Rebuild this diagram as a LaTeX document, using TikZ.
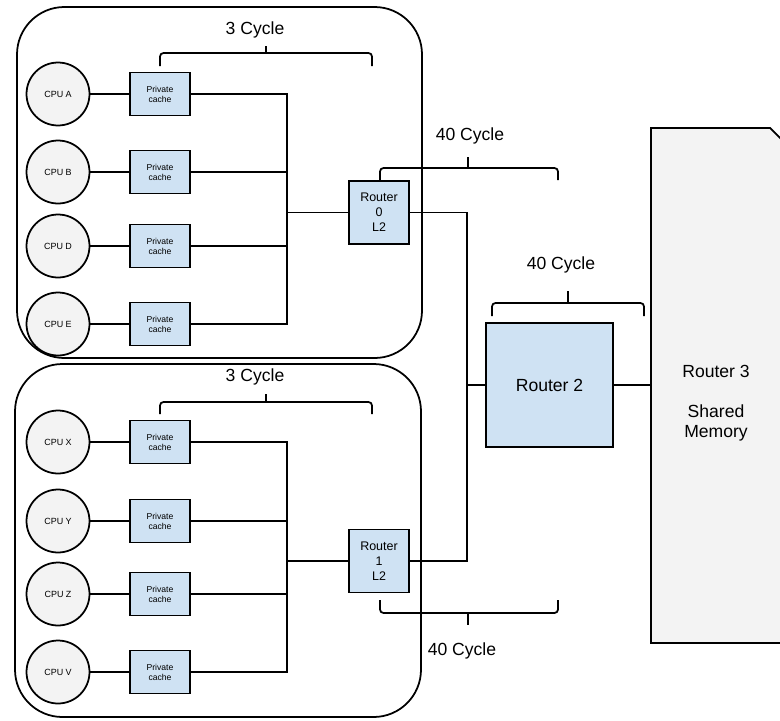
\documentclass[tikz,border=0pt]{standalone}
\usepackage{fontspec}
\setmainfont{Liberation Sans}
\definecolor{cpugray}{HTML}{F3F3F3}
\definecolor{cacheblue}{HTML}{CFE2F3}

\begin{document}
\begin{tikzpicture}[x=0.02cm, y=-0.02cm, line width=1pt,
    cpu/.style={circle, draw, fill=cpugray, minimum size=1.26cm, inner sep=0pt, font=\fontsize{5.1}{6}\selectfont},
    cache/.style={rectangle, draw, fill=cacheblue, minimum width=1.2cm, minimum height=0.86cm, inner sep=0pt, align=center, font=\fontsize{4.9}{5.7}\selectfont},
    router/.style={rectangle, draw, fill=cacheblue, minimum width=1.2cm, minimum height=1.26cm, inner sep=0pt, align=center, font=\fontsize{7.1}{8.5}\selectfont},
    cluster/.style={rounded corners=27pt},
    bracket/.style={rounded corners=2pt},
    lbl/.style={font=\fontsize{10}{11.3}\selectfont, align=center}]
    \useasboundingbox (0,0) rectangle (780,720);

    % the two clusters
    \draw[cluster] (17,7) rectangle (422,358);
    \draw[cluster] (15,364) rectangle (421,717);

    % upper cluster
    \node[cpu] (cpuA) at (58,94) {CPU A};
    \node[cpu] (cpuB) at (58,172) {CPU B};
    \node[cpu] (cpuD) at (58,246) {CPU D};
    \node[cpu] (cpuE) at (58,324) {CPU E};
    \node[cache] (cacheA) at (160,94) {Private\\cache};
    \node[cache] (cacheB) at (160,172) {Private\\cache};
    \node[cache] (cacheD) at (160,246) {Private\\cache};
    \node[cache] (cacheE) at (160,324) {Private\\cache};
    \node[router] (r0) at (379,212.5) {Router\\0\\L2};

    \draw (cpuA) -- (cacheA);
    \draw (cpuB) -- (cacheB);
    \draw (cpuD) -- (cacheD);
    \draw (cpuE) -- (cacheE);
    \coordinate (bus0) at (287,212.5);
    \draw (cacheA) -- (cacheA -| bus0) -- (cacheE -| bus0) -- (cacheE);
    \draw (cacheB) -- (cacheB -| bus0);
    \draw (cacheD) -- (cacheD -| bus0);
    \draw (bus0) -- (r0);

    % lower cluster
    \node[cpu] (cpuX) at (58,442) {CPU X};
    \node[cpu] (cpuY) at (58,521) {CPU Y};
    \node[cpu] (cpuZ) at (58,594) {CPU Z};
    \node[cpu] (cpuV) at (58,672) {CPU V};
    \node[cache] (cacheX) at (160,442) {Private\\cache};
    \node[cache] (cacheY) at (160,521) {Private\\cache};
    \node[cache] (cacheZ) at (160,594) {Private\\cache};
    \node[cache] (cacheV) at (160,672) {Private\\cache};
    \node[router] (r1) at (379,561) {Router\\1\\L2};

    \draw (cpuX) -- (cacheX);
    \draw (cpuY) -- (cacheY);
    \draw (cpuZ) -- (cacheZ);
    \draw (cpuV) -- (cacheV);
    \coordinate (bus1) at (287,561);
    \draw (cacheX) -- (cacheX -| bus1) -- (cacheV -| bus1) -- (cacheV);
    \draw (cacheY) -- (cacheY -| bus1);
    \draw (cacheZ) -- (cacheZ -| bus1);
    \draw (bus1) -- (r1);

    % routers 2 and 3
    \node[router, minimum width=2.54cm, minimum height=2.48cm, font=\fontsize{10}{12}\selectfont] (r2) at (549.5,385) {Router 2};
    \filldraw[fill=cpugray] (651,128) -- (770,128) -- (795,153) -- (795,643) -- (651,643) -- cycle;
    \coordinate (r3) at (651,385);
    \node[lbl] (r3txt) at (716,403) {Router 3\\[11.3pt]Shared\\Memory};

    \coordinate (j0) at (467,212.5);
    \coordinate (j1) at (467,561);
    \draw (r0) -- (j0) -- (j1) -- (r1);
    \draw (r2) -- (r2 -| j0);
    \draw (r2) -- (r3);

    % cycle brackets
    \draw[bracket] (160,66) -- (160,53) -- (372,53) -- (372,66);
    \draw (266,53) -- (266,46);
    \node[lbl] (cyc0) at (255,30) {3 Cycle};

    \draw[bracket] (160,414) -- (160,402) -- (372,402) -- (372,414);
    \draw (266,402) -- (266,394);
    \node[lbl] (cyc1) at (255,377) {3 Cycle};

    \draw[bracket] (380,180) -- (380,168) -- (558,168) -- (558,180);
    \draw (468,168) -- (468,157);
    \node[lbl] (cyc2) at (470,136) {40 Cycle};

    \draw[bracket] (492,316) -- (492,303) -- (644,303) -- (644,316);
    \draw (568,303) -- (568,291);
    \node[lbl] (cyc3) at (561,265) {40 Cycle};

    \draw[bracket] (380,600) -- (380,613) -- (558,613) -- (558,600);
    \draw (468,613) -- (468,625);
    \node[lbl] (cyc4) at (462,651) {40 Cycle};
\end{tikzpicture}
\end{document}
